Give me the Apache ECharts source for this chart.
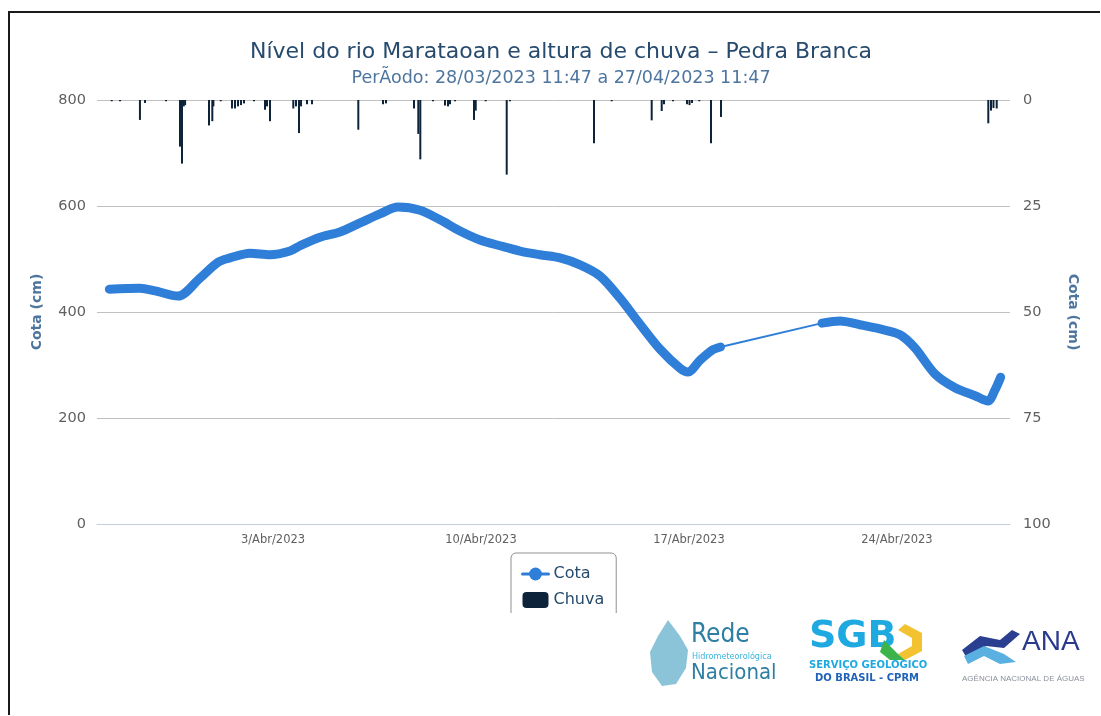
<!DOCTYPE html>
<html>
<head>
<meta charset="utf-8">
<script src="https://cdn.jsdelivr.net/npm/echarts@6/dist/echarts.min.js"></script>
<style>
    html, body { margin: 0; padding: 0; background: #fff; overflow: hidden; }
    #chart { width: 1101px; height: 716px; }
    .frame { position: absolute; left: 8px; top: 11px; width: 1090px; height: 702px;
             border-left: 2px solid #1a1a1a; border-top: 2px solid #1a1a1a; pointer-events: none; }
</style>
</head>
<body>
<div id="chart"></div>
<div class="frame"></div>
<script>
// nivel do rio (cm)
const cotaTimes = ['2023-03-28 11:47', '2023-03-29 12:30', '2023-03-30 00:40', '2023-03-30 19:15', '2023-03-31 13:00',
    '2023-04-01 03:35', '2023-04-01 13:17', '2023-04-02 05:25', '2023-04-02 21:35', '2023-04-03 13:43',
    '2023-04-03 21:49', '2023-04-04 13:58', '2023-04-05 06:07', '2023-04-05 22:16', '2023-04-06 14:25',
    '2023-04-07 04:58', '2023-04-07 22:45', '2023-04-08 14:54', '2023-04-09 07:03', '2023-04-09 23:12',
    '2023-04-10 15:22', '2023-04-11 07:32', '2023-04-11 23:41', '2023-04-12 15:50', '2023-04-13 08:00',
    '2023-04-14 00:09', '2023-04-14 16:19', '2023-04-15 08:28', '2023-04-16 00:37', '2023-04-16 16:47',
    '2023-04-16 23:14', '2023-04-17 08:56', '2023-04-17 18:37', '2023-04-18 01:30',
    '2023-04-21 11:30', '2023-04-22 02:02', '2023-04-22 18:11', '2023-04-23 10:20', '2023-04-24 02:30',
    '2023-04-24 14:37', '2023-04-25 06:46', '2023-04-25 22:55', '2023-04-26 15:04', '2023-04-27 01:35',
    '2023-04-27 07:14', '2023-04-27 11:47'];
const cotaValues = [443, 445, 440, 430, 464,
    494, 502, 511, 508, 515,
    525, 541, 551, 568, 585,
    598, 592, 574, 553, 536,
    525, 515, 508, 502, 489,
    468, 426, 377, 330, 294,
    287, 309, 328, 334,
    379, 383, 376, 368, 357,
    332, 283, 257, 242, 232,
    253, 277];
// sem leituras entre estes dois instantes
const gapStart = '2023-04-18 01:30';
const gapEnd = '2023-04-21 11:30';

// chuva (mm)
const chuvaTimes = ['2023-03-28 13:42', '2023-03-28 20:24', '2023-03-29 12:30', '2023-03-29 16:37', '2023-03-30 09:35',
    '2023-03-30 20:52', '2023-03-30 22:29', '2023-03-30 23:55', '2023-03-31 01:00', '2023-03-31 20:18',
    '2023-03-31 22:58', '2023-03-31 23:50', '2023-04-01 05:46', '2023-04-01 14:53', '2023-04-01 17:19',
    '2023-04-01 19:44', '2023-04-01 22:10', '2023-04-02 00:35', '2023-04-02 08:38', '2023-04-02 17:32',
    '2023-04-02 19:10', '2023-04-02 21:35', '2023-04-03 16:23', '2023-04-03 18:35', '2023-04-03 21:00',
    '2023-04-03 22:38', '2023-04-04 03:27', '2023-04-04 07:29', '2023-04-05 20:54', '2023-04-06 16:51',
    '2023-04-06 19:16', '2023-04-07 17:54', '2023-04-07 21:23', '2023-04-07 23:00', '2023-04-08 09:14',
    '2023-04-08 18:56', '2023-04-08 21:22', '2023-04-08 22:58', '2023-04-09 03:01', '2023-04-09 18:22',
    '2023-04-09 19:45', '2023-04-10 03:49', '2023-04-10 20:47', '2023-04-10 23:27', '2023-04-13 19:19',
    '2023-04-14 09:36', '2023-04-15 17:54', '2023-04-16 02:00', '2023-04-16 03:50', '2023-04-16 11:08',
    '2023-04-16 22:26', '2023-04-17 00:27', '2023-04-17 02:28', '2023-04-17 08:22', '2023-04-17 17:50',
    '2023-04-18 01:54', '2023-04-27 01:49', '2023-04-27 04:00', '2023-04-27 06:00', '2023-04-27 08:37'];
const chuvaValues = [0.3, 0.3, 4.7, 0.7, 0.3,
    11, 15, 1.5, 1.2, 6,
    5, 1.5, 0.3, 2, 2,
    1.5, 1.2, 0.8, 0.3, 2.3,
    1.5, 5, 2, 1.5, 7.8,
    1.5, 1, 1, 7, 1,
    0.8, 2, 8, 14, 0.3,
    1.3, 1.5, 1, 0.3, 4.7,
    2.5, 0.3, 17.6, 0.3, 10.2,
    0.3, 4.8, 2.6, 1, 0.3,
    1, 1.2, 0.7, 0.3, 10.2,
    4, 5.5, 2.5, 1.9, 2];

const xLabelDays = ['2023-04-03 00:00', '2023-04-10 00:00', '2023-04-17 00:00', '2023-04-24 00:00'];
const xRange = ['2023-03-28 01:49', '2023-04-27 19:21'];
const leftTicks = [0, 200, 400, 600, 800];
const rightTicks = [0, 25, 50, 75, 100];

const blue = '#2f7ed8';
const navy = '#0d233a';
const font = 'DejaVu Sans';

function ms(t) {
    return new Date(t.replace(' ', 'T') + ':00').getTime();
}

function load() {
    const cotaData = [];
    cotaTimes.forEach((t, i) => {
        cotaData.push([ms(t), cotaValues[i]]);
        if (t === gapStart) cotaData.push([ms(t) + 1, null]);
    });
    const gapData = [gapStart, gapEnd].map(t => [ms(t), cotaValues[cotaTimes.indexOf(t)]]);
    const chuvaData = chuvaTimes.map((t, i) => [ms(t), chuvaValues[i]]);

    echarts.init(document.getElementById('chart')).setOption({
        animation: false,
        title: {
            text: 'Nível do rio Marataoan e altura de chuva – Pedra Branca',
            subtext: 'PerÃodo: 28/03/2023 11:47 a 27/04/2023 11:47',
            left: 556,
            textAlign: 'center',
            top: 36,
            itemGap: 6,
            textStyle: { fontFamily: font, fontSize: 22, fontWeight: 'normal', color: '#274b6d' },
            subtextStyle: { fontFamily: font, fontSize: 17.5, color: '#4d759e' }
        },
        legend: {
            orient: 'vertical',
            left: 511,
            top: 553,
            padding: [13, 12, 12, 10],
            itemGap: 10,
            itemWidth: 26,
            itemHeight: 16,
            borderColor: '#909090',
            borderWidth: 1,
            borderRadius: 5,
            textStyle: { fontFamily: font, fontSize: 16, color: '#274b6d' },
            data: [
                { name: 'Cota', lineStyle: { width: 3 } },
                { name: 'Chuva', icon: 'roundRect' }
            ]
        },
        grid: { left: 97, right: 91, top: 100, bottom: 192 },
        xAxis: {
            type: 'value',
            min: ms(xRange[0]),
            max: ms(xRange[1]),
            axisLine: { lineStyle: { color: '#c0d0e0' } },
            axisTick: { show: false },
            splitLine: { show: false },
            axisLabel: {
                customValues: xLabelDays.map(ms),
                color: '#606060',
                fontFamily: font,
                fontSize: 11.5,
                margin: 10,
                formatter: v => new Date(v).getDate() + '/Abr/2023'
            }
        },
        yAxis: [
            {
                type: 'value',
                min: leftTicks[0],
                max: leftTicks[leftTicks.length - 1],
                interval: 200,
                name: 'Cota (cm)',
                nameLocation: 'middle',
                nameGap: 53,
                nameTextStyle: { fontFamily: font, fontSize: 14, fontWeight: 'bold', color: '#4d759e' },
                axisLine: { show: false },
                axisTick: { show: false },
                axisLabel: { color: '#606060', fontFamily: font, fontSize: 14.5, margin: 11 },
                splitLine: { lineStyle: { color: '#c0c0c0' } }
            },
            {
                type: 'value',
                inverse: true,
                min: rightTicks[0],
                max: rightTicks[rightTicks.length - 1],
                interval: 25,
                name: 'Cota (cm)',
                nameLocation: 'middle',
                nameRotate: -90,
                nameGap: 56,
                nameTextStyle: { fontFamily: font, fontSize: 14, fontWeight: 'bold', color: '#4d759e' },
                axisLine: { show: false },
                axisTick: { show: false },
                axisLabel: { color: '#606060', fontFamily: font, fontSize: 14.5, margin: 13 },
                splitLine: { show: false }
            }
        ],
        series: [
            {
                name: 'Cota',
                type: 'line',
                yAxisIndex: 0,
                data: cotaData,
                smooth: 0.3,
                connectNulls: false,
                symbol: 'circle',
                symbolSize: 9,
                showSymbol: false,
                color: blue,
                lineStyle: { width: 9, cap: 'round', join: 'round' },
                z: 3
            },
            {
                name: 'Cota',
                type: 'line',
                yAxisIndex: 0,
                data: gapData,
                symbol: 'circle',
                showSymbol: false,
                color: blue,
                lineStyle: { width: 2 },
                z: 2
            },
            {
                name: 'Chuva',
                type: 'bar',
                yAxisIndex: 1,
                data: chuvaData,
                barWidth: 2,
                color: navy,
                z: 4
            }
        ],
        graphic: [
            // a caixa da legenda e cortada na base da figura
            { type: 'rect', left: 500, top: 613, z: 100, shape: { width: 130, height: 100 }, style: { fill: '#fff' } },
            // Rede Hidrometeorologica Nacional
            { type: 'polygon', z: 100, shape: { points: [[668, 620], [680, 636], [688, 650], [686, 668], [676, 684], [662, 686], [652, 672], [650, 652], [658, 636]] },
              style: { fill: '#5aa9c8', opacity: 0.7 } },
            { type: 'text', left: 691, top: 622, z: 100, style: { text: 'Rede', font: '26px "DejaVu Sans Condensed"', fill: '#2e7fa3' } },
            { type: 'text', left: 692, top: 652, z: 100, style: { text: 'Hidrometeorológica', font: '9px "DejaVu Sans Condensed"', fill: '#3bb4de' } },
            { type: 'text', left: 691, top: 662, z: 100, style: { text: 'Nacional', font: '22px "DejaVu Sans Condensed"', fill: '#2e7fa3' } },
            // SGB
            { type: 'text', left: 809, top: 618, z: 100, style: { text: 'SGB', font: 'bold 38px "DejaVu Sans"', fill: '#1fa9e1' } },
            { type: 'polygon', z: 100, shape: { points: [[905, 624], [922, 633], [922, 651], [905, 660], [898, 654], [912, 646], [912, 638], [898, 630]] },
              style: { fill: '#f2c230' } },
            { type: 'polygon', z: 100, shape: { points: [[884, 640], [898, 654], [905, 660], [890, 660], [880, 652]] },
              style: { fill: '#3cb44a' } },
            { type: 'text', left: 809, top: 660, z: 100, style: { text: 'SERVIÇO GEOLÓGICO', font: 'bold 10px "DejaVu Sans"', fill: '#1fa9e1' } },
            { type: 'text', left: 815, top: 673, z: 100, style: { text: 'DO BRASIL - CPRM', font: 'bold 10px "DejaVu Sans"', fill: '#1f62b8' } },
            // ANA
            { type: 'polygon', z: 100, shape: { points: [[962, 650], [980, 636], [1000, 640], [1012, 630], [1020, 634], [1004, 648], [986, 646], [968, 660]] },
              style: { fill: '#2a3f8f' } },
            { type: 'polygon', z: 100, shape: { points: [[964, 656], [984, 646], [1004, 654], [1016, 662], [1000, 664], [984, 656], [968, 664]] },
              style: { fill: '#5ab0e0' } },
            { type: 'text', left: 1022, top: 628, z: 100, style: { text: 'ANA', font: '28px "Liberation Sans"', fill: '#2a3a8c' } },
            { type: 'text', left: 962, top: 675, z: 100, style: { text: 'AGÊNCIA NACIONAL DE ÁGUAS', font: '8px "Liberation Sans"', fill: '#8a8f9a' } }
        ]
    });
}

load();
</script>
</body>
</html>
